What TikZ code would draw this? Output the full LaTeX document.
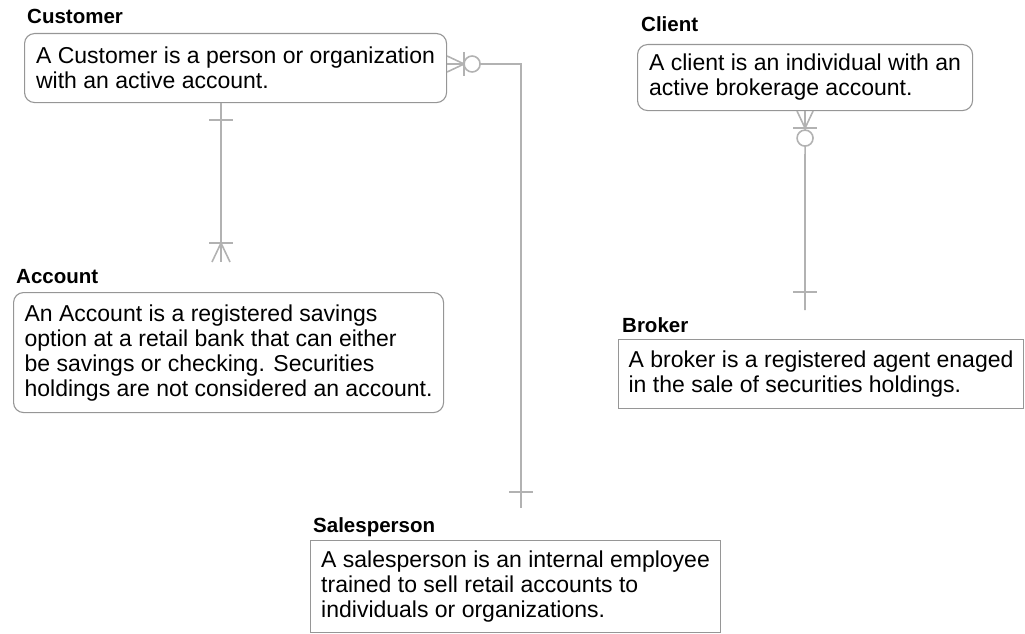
\documentclass[tikz,border=0pt]{standalone}
\usepackage{fontspec}
\setmainfont{Liberation Sans}
\definecolor{linegray}{RGB}{178,178,178}
\definecolor{boxgray}{RGB}{150,150,150}
\begin{document}
\begin{tikzpicture}[x=1pt,y=-1pt,
		entity/.style={draw=boxgray, line width=1.1pt, anchor=north west, inner sep=0pt, align=left, font=\fontsize{23}{25}\selectfont},
		roundentity/.style={entity, rounded corners=10pt},
		title/.style={anchor=base west, inner sep=0pt, font=\fontsize{20.5}{24}\selectfont\bfseries},
		rel/.style={draw=linegray, line width=1.6pt}]
	\useasboundingbox (0,0) rectangle (1025,634);
	% entities
	\node [roundentity, minimum width=422pt, minimum height=69pt] (cust) at (24,33) {A Customer is a person or organization\\with an active account.};
	\node [roundentity, minimum width=430pt, minimum height=120pt] (acct) at (13,292) {An Account is a registered savings\\option at a retail bank that can either\\be savings or checking. Securities\\holdings are not considered an account.};
	\node [roundentity, minimum width=335pt, minimum height=66pt] (cl) at (637,44) {A client is an individual with an\\active brokerage account.};
	\node [entity, minimum width=405pt, minimum height=69pt] (br) at (618,339) {A broker is a registered agent enaged\\in the sale of securities holdings.};
	\node [entity, minimum width=410pt, minimum height=92pt] (sales) at (310,540) {A salesperson is an internal employee\\trained to sell retail accounts to\\individuals or organizations.};
	% titles
	\node [title] (custtitle) at (27,24) {Customer};
	\node [title] (accttitle) at (16,283) {Account};
	\node [title] (cltitle) at (641,32) {Client};
	\node [title] (brtitle) at (622,332) {Broker};
	\node [title] (salestitle) at (313,532) {Salesperson};
	% customer -- account
	\coordinate (acctbar) at (221,243);
	\coordinate (acctend) at (221,262);
	\draw [rel] (cust.south -| acctend) -- (acctend);
	\draw [rel] (cust.south -| acctend) ++(-12,17) -- ++(24,0);
	\draw [rel] (acctbar) ++(-12,0) -- ++(24,0);
	\foreach \dx in {-9,0,9} {
		\draw [rel] (acctbar) -- ++(\dx,19);
	}
	% customer -- salesperson
	\coordinate (salescorner) at (521,64);
	\coordinate (salesend) at (521,508);
	\draw [rel] (cust.east |- salescorner) -- (salescorner) -- (salesend);
	\foreach \dy in {-8,0,8} {
		\draw [rel] (cust.east |- salescorner) ++(0,\dy) -- ++(17,-\dy);
	}
	\draw [rel] (cust.east |- salescorner) ++(17,-12) -- ++(0,24);
	\draw [rel, fill=white] (cust.east |- salescorner) ++(25,0) circle (8pt);
	\draw [rel] (salesend) ++(-12,-16) -- ++(24,0);
	% client -- broker
	\coordinate (brend) at (805,310);
	\draw [rel] (cl.south) -- (brend);
	\foreach \dx in {-8,0,8} {
		\draw [rel] (cl.south) ++(\dx,0) -- ++(-\dx,17);
	}
	\draw [rel] (cl.south) ++(-12,17) -- ++(24,0);
	\draw [rel, fill=white] (cl.south) ++(0,27) circle (8pt);
	\draw [rel] (brend) ++(-12,-18) -- ++(24,0);
\end{tikzpicture}
\end{document}
